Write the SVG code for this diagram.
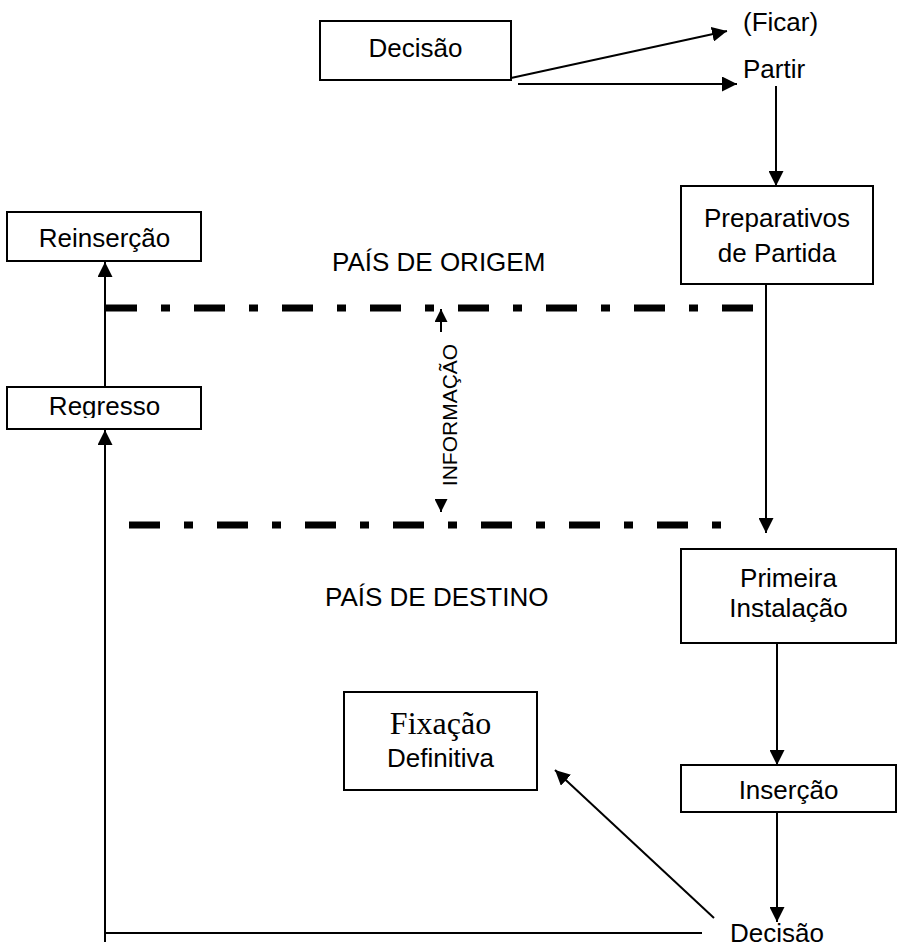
<svg xmlns="http://www.w3.org/2000/svg" width="901" height="948" viewBox="0 0 901 948">
<defs>
<style>
.box{fill:#fff;stroke:#000;stroke-width:2}
.t{font-family:"Liberation Sans",Arial,sans-serif;font-size:26px;fill:#000}
.ts{font-family:"Liberation Serif","Times New Roman",serif;font-size:32px;fill:#000}
.ln{stroke:#000;stroke-width:2;fill:none}
.dd{stroke:#000;stroke-width:7;fill:none;stroke-dasharray:31 24 9 24}
</style>
<marker id="ah" viewBox="0 0 15 15" refX="15" refY="7.5" markerWidth="15" markerHeight="15" markerUnits="userSpaceOnUse" orient="auto">
<path d="M0,0 L15,7.5 L0,15 z" fill="#000"/>
</marker>
<marker id="ahs" viewBox="0 0 13 13" refX="13" refY="6.5" markerWidth="13" markerHeight="13" markerUnits="userSpaceOnUse" orient="auto">
<path d="M0,0 L13,6.5 L0,13 z" fill="#000"/>
</marker>
<clipPath id="clipReg"><rect x="7" y="387" width="194" height="31"/></clipPath>
</defs>
<rect width="901" height="948" fill="#fff"/>

<g id="connectors">
<line class="ln" x1="511" y1="78" x2="727" y2="31" marker-end="url(#ah)"/>
<line class="ln" x1="518" y1="84" x2="737" y2="84" marker-end="url(#ah)"/>
<line class="ln" x1="776" y1="86" x2="776" y2="186" marker-end="url(#ah)"/>
<line class="ln" x1="766" y1="285" x2="766" y2="533" marker-end="url(#ah)"/>
<line class="ln" x1="777" y1="644" x2="777" y2="765" marker-end="url(#ah)"/>
<line class="ln" x1="777" y1="813" x2="777" y2="922" marker-end="url(#ah)"/>
<line class="ln" x1="714" y1="918" x2="555" y2="770" marker-end="url(#ah)"/>
<line class="ln" x1="105" y1="933" x2="702" y2="933"/>
<line class="ln" x1="105" y1="942" x2="105" y2="430" marker-end="url(#ah)"/>
<line class="ln" x1="105" y1="387" x2="105" y2="262" marker-end="url(#ah)"/>
<line class="ln" x1="441" y1="332" x2="441" y2="309" marker-end="url(#ahs)"/>
<line class="ln" x1="441" y1="499" x2="441" y2="512" marker-end="url(#ahs)"/>
</g>

<g id="borders">
<line class="dd" x1="106" y1="308" x2="754" y2="308"/>
<line class="dd" x1="129" y1="525" x2="722" y2="525"/>
</g>

<g id="decisao-top">
<rect class="box" x="320" y="21" width="191" height="59"/>
<text class="t" x="415.5" y="57" text-anchor="middle">Decisão</text>
</g>
<g id="ficar"><text class="t" x="743" y="31">(Ficar)</text></g>
<g id="partir"><text class="t" x="743" y="78">Partir</text></g>

<g id="preparativos">
<rect class="box" x="681" y="186" width="192" height="98"/>
<text class="t" x="777" y="227" text-anchor="middle">Preparativos</text>
<text class="t" x="777" y="262" text-anchor="middle">de Partida</text>
</g>

<g id="reinsercao">
<rect class="box" x="7" y="212" width="194" height="49"/>
<text class="t" x="104.5" y="247" text-anchor="middle">Reinserção</text>
</g>

<g id="regresso">
<rect class="box" x="7" y="387" width="194" height="42"/>
<text class="t" x="104.5" y="415" text-anchor="middle" clip-path="url(#clipReg)">Regresso</text>
</g>

<g id="pais-origem"><text class="t" x="332" y="271">PAÍS DE ORIGEM</text></g>
<g id="pais-destino"><text class="t" x="325" y="606">PAÍS DE DESTINO</text></g>

<g id="informacao">
<text class="t" style="font-size:21px" transform="translate(456.5,415) rotate(-90)" text-anchor="middle">INFORMAÇÃO</text>
</g>

<g id="primeira-instalacao">
<rect class="box" x="681" y="549" width="215" height="94"/>
<text class="t" x="788.5" y="587" text-anchor="middle">Primeira</text>
<text class="t" x="788.5" y="617" text-anchor="middle">Instalação</text>
</g>

<g id="fixacao">
<rect class="box" x="344" y="692" width="193" height="98"/>
<text class="ts" x="440.5" y="734" text-anchor="middle">Fixação</text>
<text class="t" x="440.5" y="767" text-anchor="middle">Definitiva</text>
</g>

<g id="insercao">
<rect class="box" x="681" y="765" width="215" height="47"/>
<text class="t" x="788.5" y="799" text-anchor="middle">Inserção</text>
</g>

<g id="decisao-bottom"><text class="t" x="730" y="942">Decisão</text></g>
</svg>
